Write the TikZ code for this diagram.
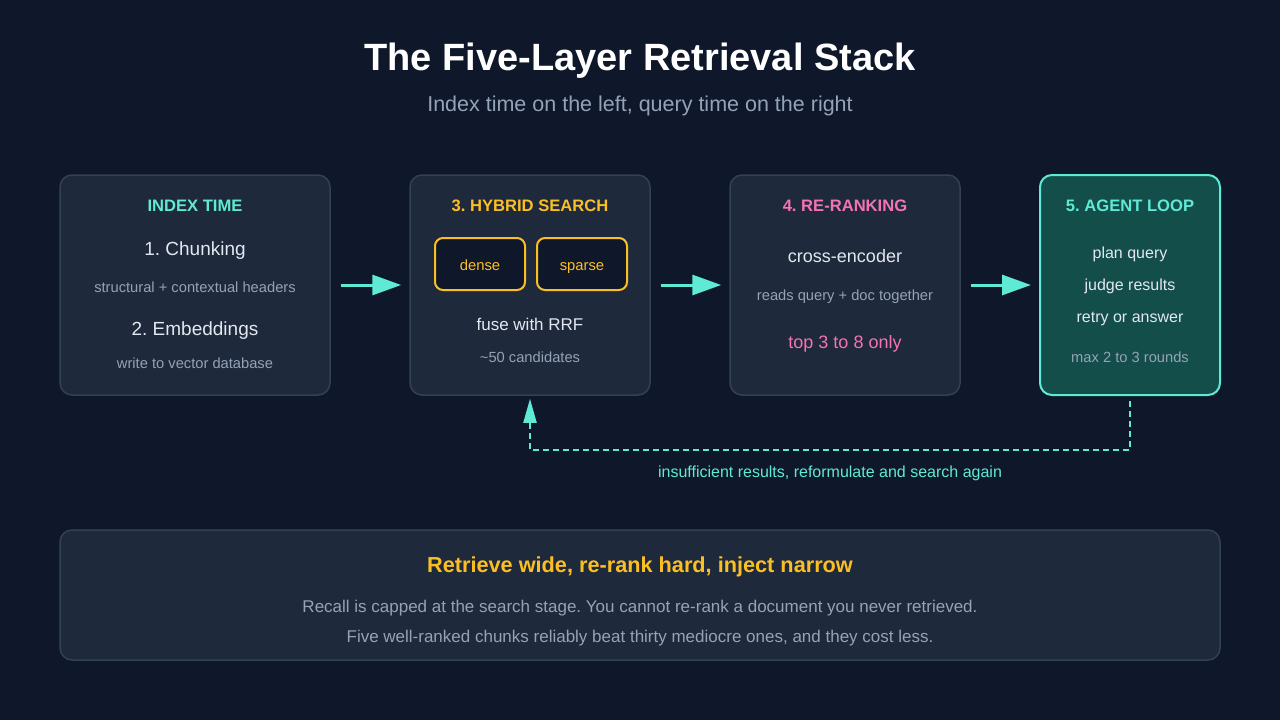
\documentclass[tikz,border=0pt]{standalone}
\usepackage{fontspec}
\setmainfont{Liberation Sans}
\usetikzlibrary{arrows.meta}
\definecolor{bg}{HTML}{0F172A}
\definecolor{card}{HTML}{1E293B}
\definecolor{cardline}{HTML}{334155}
\definecolor{teal}{HTML}{5EEAD4}
\definecolor{amber}{HTML}{FBBF24}
\definecolor{pink}{HTML}{F472B6}
\definecolor{agentfill}{HTML}{134E4A}
\definecolor{light}{HTML}{E2E8F0}
\definecolor{muted}{HTML}{94A3B8}
\newcommand{\fs}[1]{\fontsize{#1}{#1}\selectfont}
\tikzset{
  card/.style={draw=cardline, line width=1.5pt, fill=card, rounded corners=12pt, inner sep=0pt},
  agentcard/.style={draw=teal, line width=2pt, fill=agentfill, rounded corners=12pt, inner sep=0pt},
  chip/.style={draw=amber, line width=2pt, fill=bg, rounded corners=8pt, inner sep=0pt, minimum width=90pt, minimum height=52pt},
  txt/.style={inner sep=0pt, anchor=base, font=\fs{#1}, yshift={-0.36*#1}},
  head/.style={txt=16.6},
  main/.style={txt=19, text=light},
  sub/.style={txt=14.7, text=muted},
  flow/.style={draw=teal, line width=3pt, -{Triangle[length=29pt,width=20pt]}, shorten <=10pt, shorten >=8pt},
  loop/.style={draw=teal, line width=2pt, dash pattern=on 6pt off 4pt, -{Triangle[length=24pt,width=13pt]}, shorten <=5pt, shorten >=3pt},
}
\begin{document}
\frenchspacing
\begin{tikzpicture}[x=1pt,y=-1pt]
\fill[bg] (0,0) rectangle (1280,720);
\useasboundingbox (0,0) rectangle (1280,720);

\node[txt=38, text=white] (title) at (640,57) {\bfseries The Five-Layer Retrieval Stack};
\node[txt=21.5, text=muted] (subtitle) at (640,104) {Index time on the left, query time on the right};

% cards
\node[card, minimum width=270pt, minimum height=220pt] (b1) at (195,285) {};
\node[card, minimum width=240pt, minimum height=220pt] (b2) at (530,285) {};
\node[card, minimum width=230pt, minimum height=220pt] (b3) at (845,285) {};
\node[agentcard, minimum width=180pt, minimum height=220pt] (b4) at (1130,285) {};

% card 1
\node[head, text=teal] (h1) at (195,206) {\bfseries INDEX TIME};
\node[main] (c1) at (195,249) {1. Chunking};
\node[sub] (c1s) at (195,287) {structural + contextual headers};
\node[main] (e1) at (195,329) {2. Embeddings};
\node[sub] (e1s) at (195,363) {write to vector database};

% card 2
\node[head, text=amber] (h2) at (530,206) {\bfseries 3. HYBRID SEARCH};
\node[chip] (dense) at (480,264) {};
\node[chip] (sparse) at (582,264) {};
\node[txt=14.8, text=amber] (densel) at (480,265) {dense};
\node[txt=14.8, text=amber] (sparsel) at (582,265) {sparse};
\node[txt=17, text=light] (fuse) at (530,324) {fuse with RRF};
\node[sub] (cand) at (530,357) {\textasciitilde 50 candidates};

% card 3
\node[head, text=pink] (h3) at (845,206) {\bfseries 4. RE-RANKING};
\node[txt=18, text=light] (ce) at (845,256) {cross-encoder};
\node[sub] (reads) at (845,295) {reads query + doc together};
\node[txt=18, text=pink] (top) at (845,342) {top 3 to 8 only};

% card 4
\node[head, text=teal] (h4) at (1130,206) {\bfseries 5. AGENT LOOP};
\node[txt=16, text=light] (plan) at (1130,253) {plan query};
\node[txt=16, text=light] (judge) at (1130,285) {judge results};
\node[txt=16, text=light] (retry) at (1130,317) {retry or answer};
\node[sub] (max) at (1130,357) {max 2 to 3 rounds};

% arrows
\draw[flow] (b1.east) -- (b2.west);
\draw[flow] (b2.east) -- (b3.west);
\draw[flow] (b3.east) -- (b4.west);

% loop back
\coordinate (lc) at (530,450);
\draw[loop] (b4.south) |- (lc) -- (b2.south);
\node[txt=16, text=teal] (looplbl) at (830,472) {insufficient results, reformulate and search again};

% footer
\node[card, minimum width=1160pt, minimum height=130pt] (foot) at (640,595) {};
\node[txt=21.7, text=amber] (fh) at (640,565) {\bfseries Retrieve wide, re-rank hard, inject narrow};
\node[txt=17, text=muted] (f1) at (640,606) {Recall is capped at the search stage. You cannot re-rank a document you never retrieved.};
\node[txt=17, text=muted] (f2) at (640,636) {Five well-ranked chunks reliably beat thirty mediocre ones, and they cost less.};
\end{tikzpicture}
\end{document}
